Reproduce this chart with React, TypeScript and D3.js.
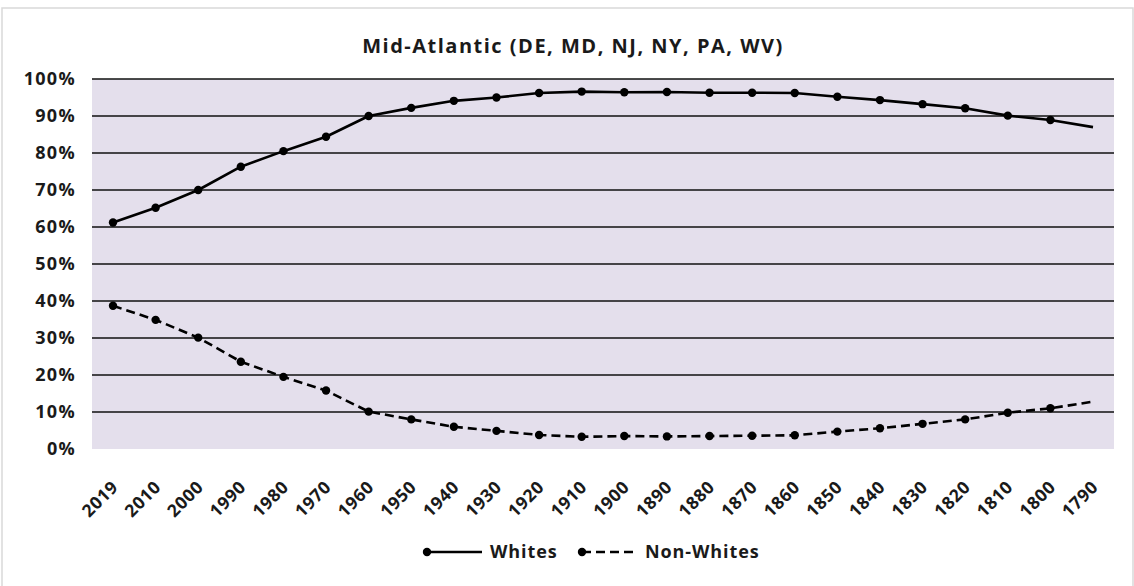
import { scalePoint, scaleLinear, line as d3line } from "d3";

const years = [
  "2019", "2010", "2000", "1990", "1980", "1970", "1960", "1950", "1940", "1930", "1920", "1910",
  "1900", "1890", "1880", "1870", "1860", "1850", "1840", "1830", "1820", "1810", "1800", "1790",
];
const whites = [
  61.2, 65.2, 70.0, 76.3, 80.5, 84.4, 90.0, 92.2, 94.1, 95.0, 96.2, 96.6,
  96.4, 96.5, 96.3, 96.3, 96.2, 95.2, 94.3, 93.2, 92.1, 90.1, 88.9, 87.0,
];
const nonWhites = [
  38.7, 34.9, 30.1, 23.6, 19.5, 15.8, 10.1, 8.0, 6.0, 4.9, 3.8, 3.3,
  3.5, 3.4, 3.5, 3.6, 3.7, 4.7, 5.6, 6.8, 8.0, 9.8, 11.0, 12.8,
];
const yTicks = [0, 10, 20, 30, 40, 50, 60, 70, 80, 90, 100];

const W = 1134;
const H = 586;
const PLOT = { left: 92, right: 1114, top: 79, bottom: 449 };
const FONT = "'Open Sans', Lato, sans-serif";
const INK = "#1a1a1a";

export default function App() {
  const x = scalePoint<string>().domain(years).range([113, 1093]);
  const y = scaleLinear().domain([0, 100]).range([PLOT.bottom, PLOT.top]);

  const gen = d3line<number>()
    .x((_, i) => x(years[i]) ?? 0)
    .y((v) => y(v));

  const series = [
    { name: "Whites", values: whites, dash: undefined as string | undefined },
    { name: "Non-Whites", values: nonWhites, dash: "9 5" },
  ];

  return (
    <svg
      width={W}
      height={H}
      style={{ position: "absolute", left: 0, top: 0, background: "#fff" }}
      fontFamily={FONT}
    >
      <rect x={2} y={8} width={1131} height={590} fill="#fff" stroke="#d9d9d9" strokeWidth={1.5} />

      <text x={573} y={53} textAnchor="middle" fontSize={20} fontWeight={700} letterSpacing={1.5} fill={INK}>
        Mid-Atlantic (DE, MD, NJ, NY, PA, WV)
      </text>

      <rect
        x={PLOT.left}
        y={PLOT.top}
        width={PLOT.right - PLOT.left}
        height={PLOT.bottom - PLOT.top}
        fill="#e4dfec"
      />

      {yTicks.map((t) => (
        <g key={t}>
          {t > 0 && (
            <line x1={PLOT.left} x2={PLOT.right} y1={y(t)} y2={y(t)} stroke="#111" strokeWidth={1.6} />
          )}
          <text
            x={76}
            y={y(t)}
            dy="0.36em"
            textAnchor="end"
            fontSize={18}
            fontWeight={700}
            letterSpacing={1.3}
            fill={INK}
          >
            {t}%
          </text>
        </g>
      ))}

      {series.map((s) => (
        <g key={s.name}>
          <path
            d={gen(s.values) ?? ""}
            fill="none"
            stroke="#000"
            strokeWidth={2.6}
            strokeDasharray={s.dash}
            strokeLinejoin="round"
          />
          {s.values.slice(0, -1).map((v, i) => (
            <circle key={i} cx={x(years[i])} cy={y(v)} r={4.2} fill="#000" />
          ))}
        </g>
      ))}

      {years.map((yr) => (
        <text
          key={yr}
          transform={`translate(${(x(yr) ?? 0) - 3},${479}) rotate(-45)`}
          textAnchor="end"
          dy="0.75em"
          fontSize={17.5}
          fontWeight={700}
          letterSpacing={0.6}
          fill={INK}
        >
          {yr}
        </text>
      ))}

      <g transform="translate(423,552)">
        <line x1={0} x2={59} y1={0} y2={0} stroke="#000" strokeWidth={2.6} />
        <circle cx={4} cy={0} r={4.2} fill="#000" />
        <text x={67} y={0} dy="0.36em" fontSize={18} fontWeight={700} letterSpacing={0.9} fill={INK}>
          Whites
        </text>
      </g>
      <g transform="translate(582,552)">
        <line x1={0} x2={56} y1={0} y2={0} stroke="#000" strokeWidth={2.6} strokeDasharray="9 5" />
        <circle cx={0} cy={0} r={4.2} fill="#000" />
        <text x={63} y={0} dy="0.36em" fontSize={18} fontWeight={700} letterSpacing={0.9} fill={INK}>
          Non-Whites
        </text>
      </g>
    </svg>
  );
}
